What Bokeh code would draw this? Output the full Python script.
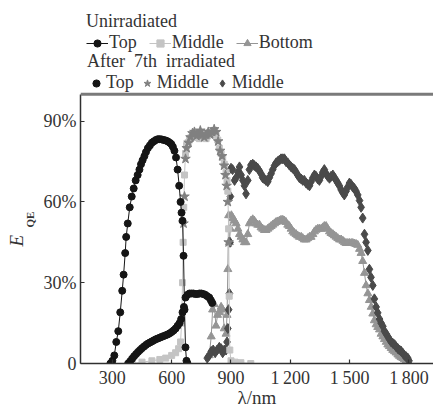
import math
from bokeh.plotting import figure
from bokeh.models import (Legend, LegendItem, FixedTicker, Span, Title, Range1d)
from bokeh.embed import file_html
from bokeh.resources import INLINE

# ---- data (wavelength nm, EQE %) ----
top_un_x = [290, 300, 310, 320, 330, 340, 350, 357, 365, 370, 378, 388, 398, 408, 418, 428, 437, 445, 453, 462,
            470, 480, 490, 500, 510, 520, 530, 540, 550, 560, 570, 580, 590, 598, 606, 614, 622, 630, 638, 645,
            650, 655, 660, 665, 670, 675, 680]
top_un_y = [0, 1, 3, 8, 12, 19, 27, 33, 41, 47, 52, 58, 62, 65, 68, 70, 72, 74, 75.5, 77,
            78.5, 80, 81, 82, 82.5, 83, 83.3, 83.3, 83.2, 83, 82.8, 82.5, 82, 81.5, 80.5, 79, 76.5, 72, 66, 60,
            56, 53, 40, 20, 6, 1, 0]

top_ir_x = [380, 390, 400, 410, 420, 430, 440, 450, 460, 470, 480, 490, 500, 510, 520, 530, 540, 550, 560, 570,
            580, 590, 600, 610, 620, 630, 640, 648, 655, 662, 670, 680, 690, 700, 710, 720, 730, 740, 750, 760,
            770, 780, 790, 798, 805]
top_ir_y = [0, 0.8, 1.8, 2.7, 3.5, 4.3, 5, 5.7, 6.3, 6.9, 7.4, 7.8, 8.2, 8.6, 9, 9.3, 9.6, 9.9, 10.2, 10.5,
            10.8, 11.2, 11.7, 12.3, 13, 14, 15, 16.5, 19, 21, 24.5, 25.5, 26, 26, 26, 25.8, 25.8, 26, 26, 25.8,
            25.5, 25, 24.5, 23.5, 22.5]

mid_un_x = [400, 450, 500, 540, 570, 600, 620, 635, 645, 650, 655, 658, 661, 665, 670, 675, 683, 690, 698, 706,
            714, 723, 731, 740, 749, 757, 766, 774, 782, 791, 799, 808, 816, 824, 833, 841, 850, 858, 866, 875,
            880, 884, 888, 891, 894, 900, 920, 950, 1000]
mid_un_y = [0, 0.5, 1, 1.5, 2, 3, 4, 5.5, 8, 15, 30, 45, 58, 70, 78, 81, 82, 83, 84, 84.5,
            84, 85, 84, 83.5, 84, 85, 84, 83.5, 84.5, 85, 85.5, 86, 86.5, 85, 83, 80, 78, 76.5, 74, 71,
            68, 64, 50, 25, 5, 1, 0.5, 0.3, 0]

mid_ir_x = [660, 665, 670, 676, 685, 695, 705, 715, 725, 735, 745, 755, 765, 775, 785, 795, 805, 815, 825, 835,
            845, 855, 865, 872, 878, 884, 888]
mid_ir_y = [52, 62, 76, 80, 82, 84, 85.5, 86, 84.5, 85, 86.5, 85, 84, 85, 86, 85, 86, 87, 86, 82.5,
            79, 77, 73.5, 70, 66, 60, 45]

bot_un_x = [790, 800, 807, 815, 824, 832, 841, 850, 858, 866, 875, 880, 884, 888, 892, 897, 902, 910, 918, 926,
            935, 943, 951, 960, 968, 976, 985, 993, 1001, 1010, 1018, 1027, 1035, 1044, 1052, 1060, 1069, 1077,
            1086, 1094, 1103, 1111, 1120, 1128, 1136, 1145, 1153, 1162, 1170, 1178, 1187, 1195, 1204, 1212,
            1220, 1229, 1237, 1246, 1255, 1263, 1271, 1280, 1288, 1297, 1305, 1314, 1322, 1330, 1339, 1347,
            1356, 1364, 1372, 1381, 1389, 1398, 1406, 1415, 1423, 1432, 1440, 1449, 1457, 1466, 1474, 1482,
            1491, 1499, 1508, 1516, 1525, 1533, 1541, 1550, 1558, 1566, 1575, 1583, 1592, 1600, 1609, 1617,
            1625, 1634, 1642, 1651, 1659, 1668, 1676, 1685, 1693, 1701, 1710, 1718, 1727, 1735, 1744, 1752,
            1760, 1769, 1777, 1786, 1794, 1800]
bot_un_y = [3, 10, 20, 22, 14, 18, 19, 21, 20, 13, 11, 18, 35, 55, 45, 50, 55, 54, 53, 52,
            50, 48, 47, 46, 45, 45, 48, 52, 53, 53.5, 53, 52, 51.5, 51.5, 50.5, 50, 49.5, 49.5,
            50, 50.5, 51, 51.5, 52, 52.5, 52.7, 53, 53.3, 53.3, 53, 52.5, 51.5, 51, 50, 49,
            48.5, 48, 47.5, 47, 47, 46.5, 46, 46, 46.5, 47, 47, 48, 49, 49.6, 50, 50,
            50, 50.5, 51, 51, 50, 49, 48.4, 48, 47.5, 47, 46.5, 46, 46, 45.5, 45, 44.7,
            44.7, 44.7, 44.7, 44.7, 44.5, 44.3, 44, 42.5, 41, 38, 33.6, 29, 26, 23.5, 21, 18.5,
            16, 14.5, 13.5, 12.6, 11, 10, 9, 8, 7, 6.4, 5.7, 5, 4.5, 4, 3.3, 2.8,
            2.3, 2, 1.5, 1, 0.8, 0.3]

bot_ir_x = [780, 790, 800, 810, 820, 830, 841, 850, 858, 866, 875, 880, 884, 888, 892, 895, 897, 900, 908, 918,
            926, 935, 943, 951, 960, 968, 976, 985, 993, 1001, 1010, 1018, 1027, 1035, 1044, 1052, 1060, 1069,
            1077, 1086, 1094, 1103, 1111, 1120, 1128, 1136, 1145, 1153, 1162, 1170, 1178, 1187, 1195, 1204,
            1212, 1221, 1229, 1237, 1246, 1255, 1263, 1271, 1280, 1288, 1297, 1305, 1314, 1322, 1330, 1339,
            1347, 1356, 1364, 1372, 1381, 1389, 1398, 1406, 1415, 1423, 1432, 1440, 1448, 1457, 1465, 1473,
            1482, 1490, 1499, 1507, 1516, 1524, 1532, 1541, 1550, 1558, 1566, 1575, 1583, 1592, 1600, 1608,
            1617, 1625, 1634, 1642, 1651, 1659, 1668, 1676, 1685, 1693, 1701, 1710, 1718, 1727, 1735, 1744,
            1752, 1760, 1769, 1777, 1786, 1794, 1800]
bot_ir_y = [2, 3, 4.5, 5, 4, 5, 6, 5.5, 4, 5, 5, 8, 13, 20, 26, 45, 62, 72.5, 72, 68,
            69, 71, 73, 70, 68, 66, 63, 68, 72, 73.7, 74, 73.5, 73, 72.5, 71.5, 70.5, 69, 68.5,
            68, 67.5, 69, 70.5, 72, 73.5, 74.5, 75, 75.5, 76, 76, 76, 75, 74.5, 73.7, 73,
            72.5, 72, 71, 70, 69, 68.5, 68, 68, 67, 66.5, 66, 67.5, 69, 70, 69.5, 68.5,
            68, 69.5, 71, 72, 70.5, 69.5, 68.8, 69.5, 70, 69, 68, 67, 66, 64.5, 63.5, 62.6,
            64, 65.5, 67, 66.5, 65.5, 65, 64, 62.6, 60.5, 58, 54, 48, 45, 42, 35, 32,
            29, 24, 21, 18.8, 16.5, 15, 13.8, 12, 11, 10, 9, 8, 7.5, 7, 6.2, 5.5,
            5, 4.6, 3.8, 3, 2.5, 2, 1]

x_ticks = [300, 600, 900, 1200, 1500, 1800]
x_tick_labels = ["300", "600", "900", "1\u2009200", "1\u2009500", "1\u2009800"]
y_ticks = [0, 30, 60, 90]
y_tick_labels = ["0", "30%", "60%", "90%"]
Y_AXIS_TOP = 100

FONT = "Liberation Serif"
TXT = "#333333"
C_TOP = "#151515"
C_MID = "#c4c4c4"
C_BOT = "#959595"
C_STAR = "#808080"
C_DIA = "#4a4a4a"

# frame spans the whole height above the x axis so that the legend block (above 100 %) is drawn inside it
p = figure(width=433, height=410, output_backend="svg", toolbar_location=None,
           x_range=Range1d(139, 1924), y_range=Range1d(0, 134.8),
           min_border_left=80, min_border_right=0, min_border_top=0, min_border_bottom=46)
p.xgrid.visible = False
p.ygrid.visible = False
p.outline_line_color = None
p.background_fill_color = "white"
p.border_fill_color = "white"

# series
l_bot = p.line(bot_un_x, bot_un_y, line_color=C_BOT, line_width=1)
s_bot = p.scatter(bot_un_x, bot_un_y, marker="triangle", size=8, color=C_BOT)
s_dia = p.scatter(bot_ir_x, bot_ir_y, marker="diamond", size=10, color=C_DIA)
l_mid = p.line(mid_un_x, mid_un_y, line_color=C_MID, line_width=1)
s_mid = p.scatter(mid_un_x, mid_un_y, marker="square", size=6, color=C_MID)
s_star = p.scatter(mid_ir_x, mid_ir_y, marker="star", size=10, color=C_STAR)
s_tir = p.scatter(top_ir_x, top_ir_y, marker="circle", size=7, color=C_TOP)
l_top = p.line(top_un_x, top_un_y, line_color=C_TOP, line_width=1)
s_top = p.scatter(top_un_x, top_un_y, marker="circle", size=7, color=C_TOP)

# axes
for ax in (p.xaxis[0], p.yaxis[0]):
    ax.axis_line_color = "#303030"
    ax.axis_line_width = 1.5
    ax.major_tick_line_color = "#303030"
    ax.major_tick_line_width = 1.2
    ax.major_tick_in = 4
    ax.major_tick_out = 0
    ax.minor_tick_line_color = None
    ax.major_label_text_font = FONT
    ax.major_label_text_font_size = "18px"
    ax.major_label_text_color = TXT

p.xaxis.ticker = FixedTicker(ticks=x_ticks)
p.xaxis.major_label_overrides = {t: s for t, s in zip(x_ticks, x_tick_labels)}
p.xaxis.major_label_standoff = 4
p.xaxis.axis_label = "\u03bb/nm"
p.xaxis.axis_label_text_font = FONT
p.xaxis.axis_label_text_font_style = "normal"
p.xaxis.axis_label_text_font_size = "19px"
p.xaxis.axis_label_text_color = TXT
p.xaxis.axis_label_standoff = -4

p.yaxis.ticker = FixedTicker(ticks=y_ticks)
p.yaxis.bounds = (0, Y_AXIS_TOP)
p.yaxis.major_label_overrides = {t: s for t, s in zip(y_ticks, y_tick_labels)}
p.yaxis.major_label_standoff = 4

# y label: italic E with subscript QE (two stacked left titles)
p.add_layout(Title(text="QE", text_font=FONT, text_font_size="11px",
                   text_color=TXT, align="left", offset=136, standoff=10), "left")
p.add_layout(Title(text="E", text_font=FONT, text_font_style="italic", text_font_size="19px",
                   text_color=TXT, align="left", offset=117, standoff=-20), "left")

# top frame line at 100 %
p.add_layout(Span(location=Y_AXIS_TOP, dimension="width", line_color="#7a7a7a", line_width=3))

# legends
common = dict(orientation="horizontal", padding=0, margin=0, border_line_color=None,
              background_fill_alpha=0, title_text_font=FONT, title_text_font_size="18px",
              title_text_font_style="normal", title_text_color=TXT,
              label_text_font=FONT, label_text_font_size="18px", label_text_color=TXT,
              label_standoff=1, label_height=18)

leg1 = Legend(items=[LegendItem(label="Top", renderers=[l_top, s_top]),
                     LegendItem(label="Middle", renderers=[l_mid, s_mid]),
                     LegendItem(label="Bottom", renderers=[l_bot, s_bot])],
              title="Unirradiated", glyph_width=22, glyph_height=18, spacing=12, title_standoff=0,
              location=(6, 310), **common)
leg2 = Legend(items=[LegendItem(label="Top", renderers=[s_tir]),
                     LegendItem(label="Middle", renderers=[s_star]),
                     LegendItem(label="Middle", renderers=[s_dia])],
              title="After\u00a0\u00a07th\u00a0\u00a0irradiated", glyph_width=18, glyph_height=18, spacing=4,
              title_standoff=-1, location=(7, 270), **common)
p.add_layout(leg1)
p.add_layout(leg2)

open("out.html", "w").write(file_html(p, INLINE))
